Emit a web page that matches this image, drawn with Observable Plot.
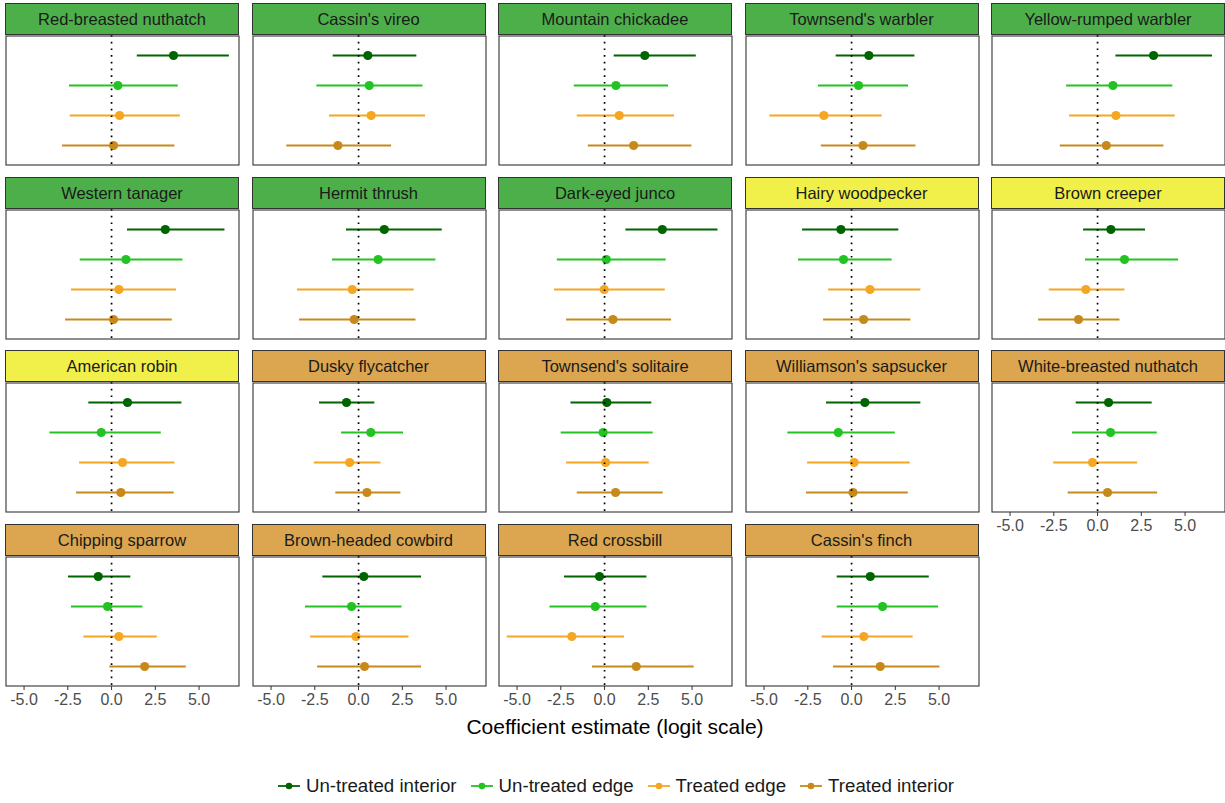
<!DOCTYPE html>
<html><head><meta charset="utf-8">
<script src="https://cdn.jsdelivr.net/npm/d3@7"></script>
<script src="https://cdn.jsdelivr.net/npm/@observablehq/plot@0.6"></script>
<style>
body{margin:0;background:#fff;font-family:"Liberation Sans",Arial,sans-serif;}
#root{position:relative;width:1225px;height:803px;overflow:hidden;background:#fff;}
.strip{position:absolute;box-sizing:border-box;border:1px solid #333;text-align:center;color:#1a1a1a;font-size:16.5px;line-height:30px;white-space:nowrap;}
.panel{position:absolute;}
.panel svg{overflow:visible;display:block;}
#xtitle{position:absolute;left:0;width:1230px;top:715px;text-align:center;font-size:21px;color:#000;}
#legend{position:absolute;left:0;width:1232px;top:775px;display:flex;justify-content:center;align-items:center;font-size:18.7px;color:#1a1a1a;}
#legend .item{display:flex;align-items:center;margin:0 7px;}
#legend svg{margin-right:6px;}
</style></head><body><div id="root"></div>
<script>
// ---- data ----
const species = ["Red-breasted nuthatch","Cassin's vireo","Mountain chickadee","Townsend's warbler","Yellow-rumped warbler",
  "Western tanager","Hermit thrush","Dark-eyed junco","Hairy woodpecker","Brown creeper",
  "American robin","Dusky flycatcher","Townsend's solitaire","Williamson's sapsucker","White-breasted nuthatch",
  "Chipping sparrow","Brown-headed cowbird","Red crossbill","Cassin's finch"];
const speciesGroup = ["A","A","A","A","A","A","A","A","B","B","B","C","C","C","C","C","C","C","C"];
const series = ["Un-treated interior","Un-treated edge","Treated edge","Treated interior"];
const xTicks = [-5, -2.5, 0, 2.5, 5];

// Un-treated interior
const estUI  = [3.54,0.53,2.30,0.99,3.20,3.07,1.47,3.30,-0.61,0.76,0.91,-0.69,0.13,0.76,0.63,-0.76,0.30,-0.29,1.07];
const lowUI  = [1.47,-1.45,0.55,-0.88,1.05,0.91,-0.69,1.22,-2.80,-0.80,-1.30,-2.23,-1.92,-1.43,-1.22,-2.46,-2.04,-2.29,-0.82];
const highUI = [6.73,3.33,5.24,3.62,6.57,6.48,4.78,6.48,2.70,2.74,4.02,0.93,2.70,3.96,3.12,1.10,3.60,2.42,4.44];
// Un-treated edge
const estUE  = [0.36,0.61,0.65,0.40,0.88,0.82,1.12,0.10,-0.46,1.54,-0.59,0.70,-0.08,-0.76,0.74,-0.23,-0.40,-0.53,1.77];
const lowUE  = [-2.40,-2.38,-1.73,-1.89,-1.77,-1.79,-1.49,-2.70,-3.03,-0.69,-3.52,-0.97,-2.48,-3.64,-1.43,-2.29,-3.03,-3.12,-0.82];
const highUE = [3.81,3.68,3.66,3.26,4.30,4.08,4.42,3.52,2.32,4.63,2.84,2.57,2.78,2.50,3.41,1.79,2.48,2.42,4.97];
// Treated edge
const estTE  = [0.46,0.72,0.84,-1.58,1.05,0.42,-0.36,-0.02,1.05,-0.67,0.63,-0.51,0.06,0.15,-0.29,0.42,-0.15,-1.87,0.70];
const lowTE  = [-2.36,-1.66,-1.56,-4.67,-1.60,-2.29,-3.49,-2.86,-1.31,-2.76,-1.83,-2.53,-2.17,-2.51,-2.51,-1.58,-2.74,-5.56,-1.68];
const highTE = [3.93,3.83,4.00,1.75,4.44,3.71,3.18,3.47,3.96,1.56,3.62,1.28,2.55,3.35,2.29,2.61,2.88,1.14,3.52];
// Treated interior
const estTI  = [0.11,-1.18,1.66,0.65,0.50,0.11,-0.25,0.48,0.69,-1.09,0.53,0.48,0.63,0.08,0.57,1.89,0.34,1.81,1.64];
const lowTI  = [-2.80,-4.10,-0.93,-1.73,-2.13,-2.63,-3.37,-2.17,-1.60,-3.37,-2.00,-1.30,-1.56,-2.57,-1.68,-0.10,-2.34,-0.69,-1.03];
const highTI = [3.62,1.89,4.99,3.68,3.79,3.47,3.28,3.83,3.39,1.28,3.58,2.42,3.35,3.24,3.43,4.27,3.60,5.12,5.05];

// ---- styles ----
const seriesColors = ["#006400","#22C322","#F5A623","#C8891B"];
const stripColors = {A:"#4DAF4A", B:"#F1F04B", C:"#DBA64F"};

const est = [estUI, estUE, estTE, estTI];
const low = [lowUI, lowUE, lowTE, lowTI];
const high = [highUI, highUE, highTE, highTI];

const root = document.getElementById("root");
const nCol = 5, colPitch = 246.5, rowPitch = 173.7, left0 = 5, top0 = 3;
const pw = 234, stripH = 32, ph = 130;
let colorScale = null;

species.forEach((sp, i) => {
  const col = i % nCol, row = Math.floor(i / nCol);
  const left = left0 + col * colPitch, top = top0 + row * rowPitch;
  const strip = document.createElement("div");
  strip.className = "strip";
  Object.assign(strip.style, {left: left + "px", top: top + "px", width: pw + "px", height: stripH + "px", background: stripColors[speciesGroup[i]]});
  strip.textContent = sp;
  root.appendChild(strip);

  const data = series.map((s, k) => ({series: s, est: est[k][i], low: low[k][i], high: high[k][i]}));
  const withAxis = i + nCol >= species.length;
  const marks = [
    Plot.ruleY(data, {y: "series", x1: "low", x2: "high", stroke: "series", strokeWidth: 1.8}),
    Plot.dot(data, {x: "est", y: "series", fill: "series", r: 4.6}),
    Plot.ruleX([0], {stroke: "#000", strokeWidth: 1.7, strokeDasharray: "1.7,5"}),
    Plot.frame({stroke: "#333", strokeWidth: 1.1, inset: 0.5})
  ];
  if (withAxis) marks.push(Plot.axisX({ticks: xTicks, tickFormat: d => d.toFixed(1), tickSize: 4, tickPadding: 3, fontSize: 16, stroke: "#333", fill: "#4D4D4D"}));
  const plot = Plot.plot({
    width: pw, height: ph + (withAxis ? 30 : 0),
    marginLeft: 0, marginRight: 0, marginTop: 0, marginBottom: withAxis ? 30 : 0,
    style: {fontFamily: '"Liberation Sans", Arial, sans-serif', fontSize: "16px", background: "transparent", overflow: "visible"},
    x: {domain: [-6.06, 7.31], axis: null},
    y: {type: "point", domain: series, padding: 0.6, axis: null},
    color: {domain: series, range: seriesColors},
    marks
  });
  if (!colorScale) colorScale = plot.scale("color");
  const wrap = document.createElement("div");
  wrap.className = "panel";
  Object.assign(wrap.style, {left: left + "px", top: (top + stripH) + "px"});
  wrap.appendChild(plot);
  root.appendChild(wrap);
});

const title = document.createElement("div");
title.id = "xtitle";
title.textContent = "Coefficient estimate (logit scale)";
root.appendChild(title);

const legend = document.createElement("div");
legend.id = "legend";
colorScale.domain.forEach((s, k) => {
  const c = colorScale.range[k];
  const item = document.createElement("div");
  item.className = "item";
  item.innerHTML = `<svg width="22" height="14"><line x1="0" x2="22" y1="7" y2="7" stroke="${c}" stroke-width="1.8"/><circle cx="11" cy="7" r="3.3" fill="${c}"/></svg><span>${s}</span>`;
  legend.appendChild(item);
});
root.appendChild(legend);
</script>
</body></html>
